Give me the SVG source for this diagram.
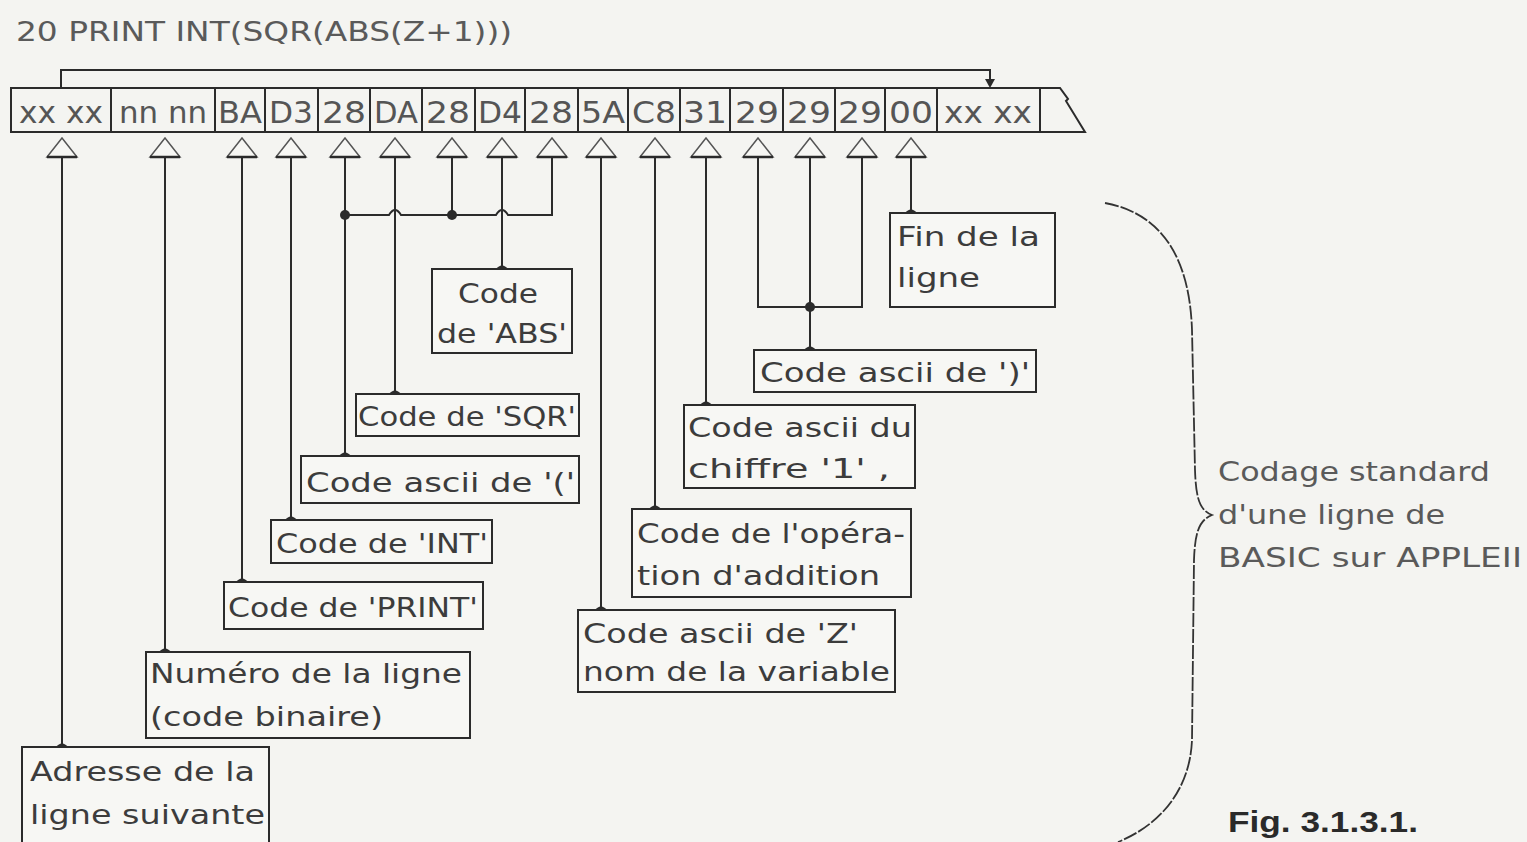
<svg xmlns="http://www.w3.org/2000/svg" width="1527" height="842" viewBox="0 0 1527 842">
<style>
.bg{fill:#f4f4f1}
.ln{stroke:#2b2b2b;stroke-width:2;fill:none}
.box{stroke:#2b2b2b;stroke-width:2;fill:#f7f7f4}
.t{font-family:"DejaVu Sans","Liberation Sans",sans-serif;font-size:26px;fill:#3c3c3c}
.c{font-family:"DejaVu Sans","Liberation Sans",sans-serif;font-size:30px;fill:#555;text-anchor:middle}
.g{font-family:"DejaVu Sans","Liberation Sans",sans-serif;font-size:26px;fill:#5a5a5a}
.fig{font-family:"Liberation Sans Narrow","Liberation Sans",sans-serif;font-size:30px;font-weight:bold;fill:#2a2a2a}
.tri{fill:#f7f7f4;stroke:#555;stroke-width:1.5}
.dot{fill:#2b2b2b}
</style>
<defs>
<g id="arr"><path class="tri" d="M0,-19 L15,0 L-15,0 Z"/><line x1="-15" y1="0" x2="15" y2="0" stroke="#2b2b2b" stroke-width="2.5"/></g>
<path id="foot" d="M-7,1 Q0,-8 7,1 Z" fill="#2b2b2b"/>
</defs>
<rect class="bg" x="0" y="0" width="1527" height="842"/>

<text class="g" x="16" y="41" textLength="496" lengthAdjust="spacingAndGlyphs">20 PRINT INT(SQR(ABS(Z+1)))</text>

<g id="row">
<path class="ln" d="M11,88 H1060 L1068,99 L1066,101 L1085,132 H11 Z"/>
<path class="ln" d="M111,88V132M215,88V132M265,88V132M318,88V132M370,88V132M422,88V132M475,88V132M525,88V132M578,88V132M628,88V132M680,88V132M730,88V132M783,88V132M835,88V132M885,88V132M937,88V132M1040,88V132"/>
<text class="c" x="61" y="123" textLength="84" lengthAdjust="spacingAndGlyphs">xx xx</text>
<text class="c" x="163" y="123" textLength="88" lengthAdjust="spacingAndGlyphs">nn nn</text>
<text class="c" x="240" y="123" textLength="44" lengthAdjust="spacingAndGlyphs">BA</text>
<text class="c" x="291" y="123" textLength="44" lengthAdjust="spacingAndGlyphs">D3</text>
<text class="c" x="344" y="123" textLength="44" lengthAdjust="spacingAndGlyphs">28</text>
<text class="c" x="396" y="123" textLength="44" lengthAdjust="spacingAndGlyphs">DA</text>
<text class="c" x="448" y="123" textLength="44" lengthAdjust="spacingAndGlyphs">28</text>
<text class="c" x="500" y="123" textLength="44" lengthAdjust="spacingAndGlyphs">D4</text>
<text class="c" x="551" y="123" textLength="44" lengthAdjust="spacingAndGlyphs">28</text>
<text class="c" x="603" y="123" textLength="44" lengthAdjust="spacingAndGlyphs">5A</text>
<text class="c" x="654" y="123" textLength="44" lengthAdjust="spacingAndGlyphs">C8</text>
<text class="c" x="705" y="123" textLength="44" lengthAdjust="spacingAndGlyphs">31</text>
<text class="c" x="757" y="123" textLength="44" lengthAdjust="spacingAndGlyphs">29</text>
<text class="c" x="809" y="123" textLength="44" lengthAdjust="spacingAndGlyphs">29</text>
<text class="c" x="860" y="123" textLength="44" lengthAdjust="spacingAndGlyphs">29</text>
<text class="c" x="911" y="123" textLength="44" lengthAdjust="spacingAndGlyphs">00</text>
<text class="c" x="988" y="123" textLength="88" lengthAdjust="spacingAndGlyphs">xx xx</text>
</g>

<g id="connectors">
<path class="ln" d="M61,88 V70 H990 V82"/>
<path d="M985,79 L995,79 L990,88 Z" fill="#2b2b2b"/>
<path class="ln" d="M62,157V747M165,157V652M242,157V582M291,157V520M395,157V394M502,157V269M601,157V610M655,157V509M706,157V405M911,157V213"/>
<path class="ln" d="M345,157V456M452,157V215M552,157V215H508 Q502,205 496,215 H401 Q395,205 389,215 H345"/>
<path class="ln" d="M758,157V307H862V157M810,157V350"/>
<circle class="dot" cx="345" cy="215" r="5"/>
<circle class="dot" cx="452" cy="215" r="5"/>
<circle class="dot" cx="810" cy="307" r="5"/>
<use href="#arr" x="62" y="157"/>
<use href="#arr" x="165" y="157"/>
<use href="#arr" x="242" y="157"/>
<use href="#arr" x="291" y="157"/>
<use href="#arr" x="345" y="157"/>
<use href="#arr" x="395" y="157"/>
<use href="#arr" x="452" y="157"/>
<use href="#arr" x="502" y="157"/>
<use href="#arr" x="552" y="157"/>
<use href="#arr" x="601" y="157"/>
<use href="#arr" x="655" y="157"/>
<use href="#arr" x="706" y="157"/>
<use href="#arr" x="758" y="157"/>
<use href="#arr" x="810" y="157"/>
<use href="#arr" x="862" y="157"/>
<use href="#arr" x="911" y="157"/>
<use href="#foot" x="62" y="747"/>
<use href="#foot" x="165" y="652"/>
<use href="#foot" x="242" y="582"/>
<use href="#foot" x="291" y="520"/>
<use href="#foot" x="345" y="456"/>
<use href="#foot" x="395" y="394"/>
<use href="#foot" x="502" y="269"/>
<use href="#foot" x="601" y="610"/>
<use href="#foot" x="655" y="509"/>
<use href="#foot" x="706" y="405"/>
<use href="#foot" x="810" y="350"/>
<use href="#foot" x="911" y="213"/>
<path d="M1105,203 C1170,215 1190,270 1192,330 L1195,470 C1196,500 1200,510 1212,515 C1200,520 1195,530 1194,560 L1192,740 C1190,790 1160,825 1118,842" fill="none" stroke="#333" stroke-width="1.8" stroke-dasharray="14 2"/>
</g>

<g id="n-fin"><rect class="box" x="890" y="213" width="165" height="94"/>
<text class="t" x="897" y="246" textLength="143" lengthAdjust="spacingAndGlyphs">Fin de la</text>
<text class="t" x="897" y="287" textLength="83" lengthAdjust="spacingAndGlyphs">ligne</text></g>

<g id="n-paren-close"><rect class="box" x="754" y="350" width="282" height="42"/>
<text class="t" x="760" y="382" textLength="270" lengthAdjust="spacingAndGlyphs">Code ascii de ')'</text></g>

<g id="n-abs"><rect class="box" x="432" y="269" width="140" height="84"/>
<text class="t" x="458" y="303" textLength="80" lengthAdjust="spacingAndGlyphs">Code</text>
<text class="t" x="437" y="343" textLength="130" lengthAdjust="spacingAndGlyphs">de 'ABS'</text></g>

<g id="n-sqr"><rect class="box" x="356" y="394" width="223" height="42"/>
<text class="t" x="358" y="426" textLength="218" lengthAdjust="spacingAndGlyphs">Code de 'SQR'</text></g>

<g id="n-paren-open"><rect class="box" x="301" y="456" width="278" height="47"/>
<text class="t" x="306" y="492" textLength="269" lengthAdjust="spacingAndGlyphs">Code ascii de '('</text></g>

<g id="n-int"><rect class="box" x="271" y="520" width="221" height="43"/>
<text class="t" x="276" y="553" textLength="212" lengthAdjust="spacingAndGlyphs">Code de 'INT'</text></g>

<g id="n-print"><rect class="box" x="224" y="582" width="259" height="47"/>
<text class="t" x="228" y="617" textLength="250" lengthAdjust="spacingAndGlyphs">Code de 'PRINT'</text></g>

<g id="n-one"><rect class="box" x="684" y="405" width="231" height="83"/>
<text class="t" x="688" y="437" textLength="224" lengthAdjust="spacingAndGlyphs">Code ascii du</text>
<text class="t" x="688" y="478" textLength="202" lengthAdjust="spacingAndGlyphs">chiffre '1'  ,</text></g>

<g id="n-add"><rect class="box" x="632" y="509" width="279" height="88"/>
<text class="t" x="637" y="543" textLength="268" lengthAdjust="spacingAndGlyphs">Code de l'opéra-</text>
<text class="t" x="637" y="585" textLength="243" lengthAdjust="spacingAndGlyphs">tion d'addition</text></g>

<g id="n-z"><rect class="box" x="578" y="610" width="317" height="82"/>
<text class="t" x="583" y="643" textLength="275" lengthAdjust="spacingAndGlyphs">Code ascii de 'Z'</text>
<text class="t" x="583" y="681" textLength="307" lengthAdjust="spacingAndGlyphs">nom de la variable</text></g>

<g id="n-num"><rect class="box" x="146" y="652" width="324" height="86"/>
<text class="t" x="150" y="683" textLength="312" lengthAdjust="spacingAndGlyphs">Numéro de la ligne</text>
<text class="t" x="150" y="726" textLength="233" lengthAdjust="spacingAndGlyphs">(code binaire)</text></g>

<g id="n-addr"><rect class="box" x="22" y="747" width="247" height="100"/>
<text class="t" x="30" y="781" textLength="225" lengthAdjust="spacingAndGlyphs">Adresse de la</text>
<text class="t" x="30" y="824" textLength="235" lengthAdjust="spacingAndGlyphs">ligne suivante</text></g>

<g id="caption">
<text class="g" x="1218" y="481" textLength="272" lengthAdjust="spacingAndGlyphs">Codage standard</text>
<text class="g" x="1218" y="524" textLength="227" lengthAdjust="spacingAndGlyphs">d'une ligne de</text>
<text class="g" x="1218" y="567" textLength="304" lengthAdjust="spacingAndGlyphs">BASIC sur APPLEII</text>
<text class="fig" x="1228" y="832" textLength="190" lengthAdjust="spacingAndGlyphs">Fig. 3.1.3.1.</text>
</g>
</svg>
